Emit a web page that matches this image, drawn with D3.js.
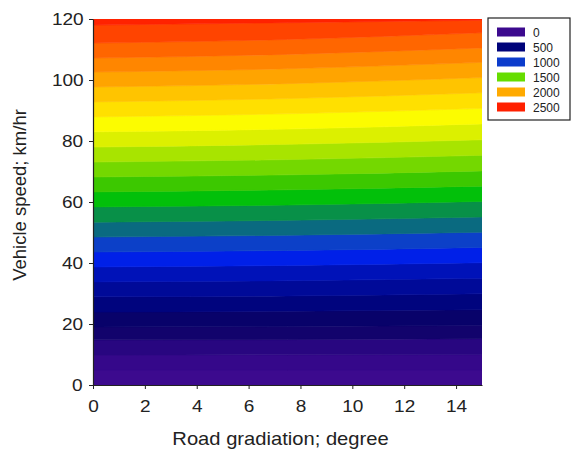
<!DOCTYPE html>
<html>
<head>
<meta charset="utf-8">
<script src="https://cdn.jsdelivr.net/npm/d3@7"></script>
<style>
  body { margin: 0; background: #fff; }
  svg { font-family: "Liberation Sans", Arial, sans-serif; }
  .wide { transform-box: fill-box; transform-origin: center; transform: scaleX(1.12); }
</style>
</head>
<body>
<script>
// gradient positions (degree) where each contour boundary was read
const gradSamples = [0, 7.5, 15];

// contour levels and the speed (km/hr) of each boundary at the sampled gradients
const levels = [100, 200, 300, 400, 500, 600, 700, 800, 900, 1000, 1100, 1200,
                1300, 1400, 1500, 1600, 1700, 1800, 1900, 2000, 2100, 2200, 2300, 2400];
const speedAtG0 = [4.9, 9.8, 14.8, 19.0, 23.9, 28.9, 33.8, 38.7, 43.6, 48.5, 53.4, 58.4,
                   63.3, 68.2, 73.1, 78.0, 83.0, 87.9, 92.8, 97.7, 102.6, 107.2, 112.1, 118.0];
const speedAtG75 = [4.9, 9.9, 14.9, 19.2, 24.2, 29.2, 34.2, 39.2, 44.1, 49.1, 54.0, 59.0,
                    64.0, 68.9, 73.9, 78.9, 83.9, 88.9, 93.9, 98.8, 103.7, 108.4, 113.3, 118.8];
const speedAtG15 = [4.9, 10.0, 15.2, 19.6, 24.7, 29.9, 35.0, 40.1, 45.1, 50.1, 55.1, 60.2,
                    65.2, 70.2, 75.3, 80.4, 85.6, 90.7, 95.8, 100.8, 105.8, 110.5, 115.5, 119.6];

// fill colour of each band, bottom to top
const bandColors = ["#3c0a8e", "#35088a", "#280680", "#12036c", "#08026a", "#00047e",
                    "#000a98", "#0012b8", "#0020e8", "#0c40c8", "#0a6a80", "#089048",
                    "#02c00a", "#3cc800", "#74d800", "#a8e400", "#dcf000", "#fcfc00",
                    "#ffe000", "#ffc400", "#ffa400", "#ff8600", "#ff6600", "#ff4400",
                    "#ff2200"];

const legendLabels = ["0", "500", "1000", "1500", "2000", "2500"];
const legendColors = ["#3c0a8e", "#00037a", "#0c3ccc", "#66dd00", "#ffaa00", "#ff2000"];

const xTicks = [0, 2, 4, 6, 8, 10, 12, 14];
const yTicks = [0, 20, 40, 60, 80, 100, 120];

const w = 573, h = 455;

const svg = d3.select("body").append("svg")
  .attr("width", w)
  .attr("height", h);

const x = d3.scaleLinear().domain([0, 15]).range([93, 482]);
const y = d3.scaleLinear().domain([0, 120]).range([385, 19]);

svg.append("clipPath").attr("id", "plotclip")
  .append("rect")
  .attr("x", x(0)).attr("y", y(120))
  .attr("width", x(15) - x(0)).attr("height", y(0) - y(120));

// boundaries as point lists
const speedCols = [speedAtG0, speedAtG75, speedAtG15];
const bounds = levels.map((lv, i) =>
  gradSamples.map((g, j) => ({ g: g, s: speedCols[j][i] })));

const lowEdge = gradSamples.map(g => ({ g: g, s: 0 }));
const highEdge = gradSamples.map(g => ({ g: g, s: 130 }));
const allBounds = [lowEdge].concat(bounds, [highEdge]);

const area = d3.area()
  .x(d => x(d.g))
  .y0(d => y(d.lo))
  .y1(d => y(d.hi))
  .curve(d3.curveMonotoneX);

const bands = d3.range(allBounds.length - 1).map(i =>
  allBounds[i].map((p, j) => ({ g: p.g, lo: p.s, hi: allBounds[i + 1][j].s })));

svg.append("g")
  .attr("clip-path", "url(#plotclip)")
  .selectAll("path")
  .data(bands)
  .enter()
  .append("path")
  .attr("d", area)
  .attr("fill", (d, i) => bandColors[i])
  .attr("stroke", (d, i) => bandColors[i])
  .attr("stroke-width", 0.6);

// axes
const xAxis = svg.append("g")
  .attr("transform", "translate(0," + y(0) + ")")
  .call(d3.axisBottom(x).tickValues(xTicks).tickSize(4).tickSizeOuter(0));
const yAxis = svg.append("g")
  .attr("transform", "translate(" + x(0) + ",0)")
  .call(d3.axisLeft(y).tickValues(yTicks).tickSize(4).tickSizeOuter(0));

[xAxis, yAxis].forEach(a => {
  a.select(".domain").attr("stroke", "#222").attr("stroke-width", 1.2);
  a.selectAll(".tick line").attr("stroke", "#222");
  a.selectAll(".tick text")
    .attr("fill", "#222")
    .attr("class", "wide")
    .style("font-size", "17px")
    .style("font-family", "Liberation Sans, Arial, sans-serif");
});
xAxis.selectAll(".tick text").attr("y", 10).attr("dy", "1.0em");
yAxis.selectAll(".tick text").attr("x", -11);

svg.append("text")
  .attr("class", "wide")
  .attr("x", x(7.5) - 7)
  .attr("y", 445)
  .attr("text-anchor", "middle")
  .attr("fill", "#222")
  .style("font-size", "18px")
  .text("Road gradiation; degree");

svg.append("text")
  .attr("transform", "translate(26,195) rotate(-90)")
  .attr("text-anchor", "middle")
  .attr("fill", "#222")
  .style("font-size", "18.5px")
  .text("Vehicle speed; km/hr");

// legend
const legend = svg.append("g").attr("id", "legend");
legend.append("rect")
  .attr("x", 488).attr("y", 18)
  .attr("width", 82).attr("height", 102)
  .attr("fill", "#fff")
  .attr("stroke", "#222")
  .attr("stroke-width", 1.2);

const rows = legend.selectAll("g.row")
  .data(legendLabels)
  .enter()
  .append("g")
  .attr("class", "row")
  .attr("transform", (d, i) => "translate(0," + (32 + i * 15) + ")");

rows.append("rect")
  .attr("x", 497).attr("y", -4.5)
  .attr("width", 28).attr("height", 9)
  .attr("fill", (d, i) => legendColors[i]);

rows.append("text")
  .attr("x", 533).attr("y", 4.5)
  .attr("fill", "#222")
  .style("font-size", "12px")
  .text(d => d);
</script>
</body>
</html>
